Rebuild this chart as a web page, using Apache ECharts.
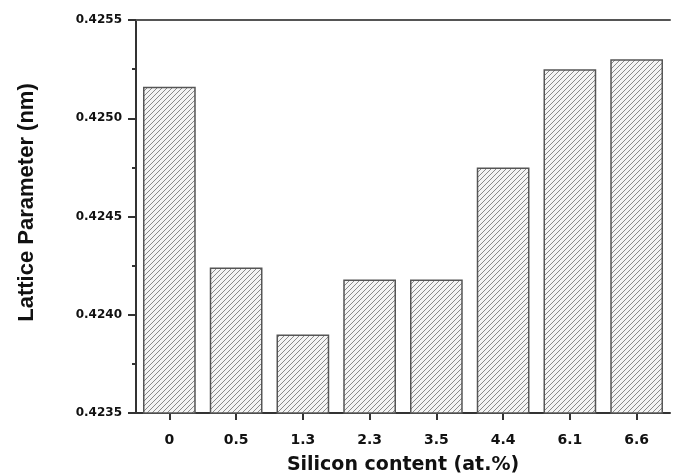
<!DOCTYPE html>
<html>
<head>
<meta charset="utf-8">
<script src="https://cdn.jsdelivr.net/npm/echarts@6/dist/echarts.min.js"></script>
<style>html,body{margin:0;padding:0;background:#fff;}#c{width:675px;height:475px;}</style>
</head>
<body>
<div id="c"></div>
<script>
const categories = ['0', '0.5', '1.3', '2.3', '3.5', '4.4', '6.1', '6.6'];
const latticeValues = [0.42516, 0.42424, 0.42390, 0.42418, 0.42418, 0.42475, 0.42525, 0.42530];
const yTicks = [0.4235, 0.4240, 0.4245, 0.4250, 0.4255];

const pc = document.createElement('canvas');
const S = 5;
pc.width = S; pc.height = S;
const ctx = pc.getContext('2d');
ctx.fillStyle = '#f4f4f4';
ctx.fillRect(0, 0, S, S);
ctx.strokeStyle = '#8a8a8a';
ctx.lineWidth = 1;
ctx.beginPath();
ctx.moveTo(-1, 1); ctx.lineTo(1, -1);
ctx.moveTo(0, S); ctx.lineTo(S, 0);
ctx.moveTo(S - 1, S + 1); ctx.lineTo(S + 1, S - 1);
ctx.stroke();

const chart = echarts.init(document.getElementById('c'), null, {renderer: 'canvas'});
const wide = '"DejaVu Sans", sans-serif';
const narrow = '"Liberation Sans", Arial, sans-serif';
chart.setOption({
  animation: false,
  grid: {left: 136, right: 5, top: 20, bottom: 62, containLabel: false, outerBoundsMode: 'none'},
  xAxis: [{
    type: 'category',
    data: categories,
    name: 'Silicon content (at.%)',
    nameLocation: 'middle',
    nameGap: 43,
    nameTextStyle: {fontFamily: wide, fontWeight: 'bold', fontSize: 19, color: '#111'},
    axisLine: {lineStyle: {color: '#333', width: 2}},
    axisTick: {show: true, alignWithLabel: true, length: 7, lineStyle: {color: '#333', width: 2}},
    axisLabel: {fontFamily: wide, fontWeight: 'bold', fontSize: 14, color: '#111', margin: 20}
  }, {
    type: 'category',
    data: categories,
    position: 'top',
    axisLine: {show: true, lineStyle: {color: '#555', width: 2}},
    axisTick: {show: false},
    axisLabel: {show: false}
  }],
  yAxis: {
    type: 'value',
    min: yTicks[0],
    max: yTicks[yTicks.length - 1],
    interval: 0.0005,
    name: 'Lattice Parameter (nm)',
    nameLocation: 'middle',
    nameGap: 98,
    nameTextStyle: {fontFamily: narrow, fontWeight: 'bold', fontSize: 22, color: '#111', padding: [0, 0, 0, 28]},
    axisLine: {show: true, lineStyle: {color: '#333', width: 2}},
    axisTick: {show: true, length: 8, lineStyle: {color: '#333', width: 2}},
    minorTick: {show: true, splitNumber: 2, length: 4, lineStyle: {color: '#333', width: 2}},
    splitLine: {show: false},
    axisLabel: {fontFamily: wide, fontWeight: 'bold', fontSize: 12, color: '#111', margin: 14,
      formatter: v => v.toFixed(4)}
  },
  series: [{
    type: 'bar',
    data: latticeValues,
    barCategoryGap: '21%',
    itemStyle: {
      color: {image: pc, repeat: 'repeat'},
      borderColor: '#555',
      borderWidth: 1.5
    }
  }]
});
</script>
</body>
</html>
